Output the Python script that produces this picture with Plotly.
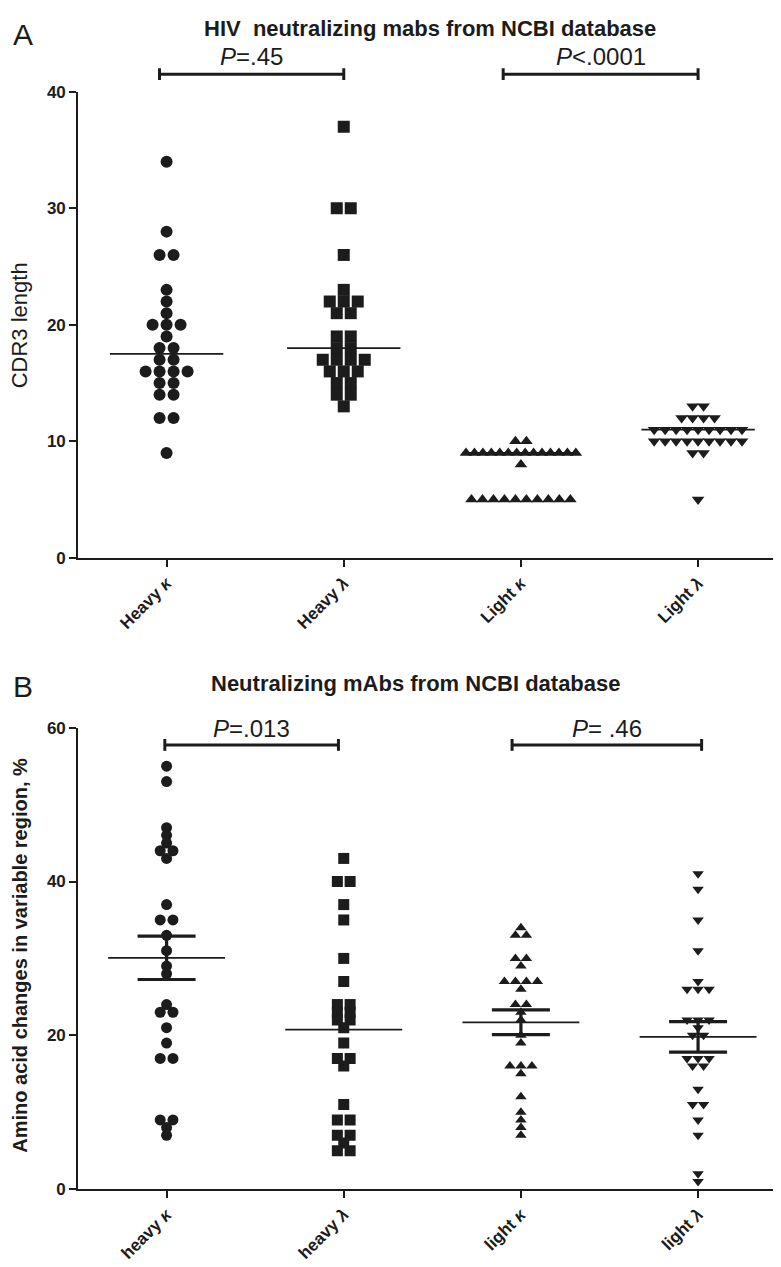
import numpy as np
import plotly.graph_objects as go
from plotly.subplots import make_subplots

# ---------------------------------------------------------------
# Data
# ---------------------------------------------------------------
labels_a = ["Heavy <i>κ</i>", "Heavy <i>λ</i>", "Light <i>κ</i>", "Light <i>λ</i>"]
labels_b = ["heavy <i>κ</i>", "heavy <i>λ</i>", "light <i>κ</i>", "light <i>λ</i>"]

# Panel A - CDR3 length (median shown)
cdr3_heavy_kappa = [34, 28, 26, 26, 23, 22, 21, 20, 20, 20, 19, 18, 18, 17, 17,
                    16, 16, 16, 16, 15, 15, 14, 14, 12, 12, 9]
cdr3_heavy_lambda = [37, 30, 30, 26, 23, 22, 22, 22, 21, 21, 19, 19, 18, 18, 17,
                     17, 17, 17, 16, 16, 16, 15, 15, 14, 14, 13]
cdr3_light_kappa = [10, 10, 9, 9, 9, 9, 9, 9, 9, 9, 9, 9, 9, 9, 9, 9, 8,
                    5, 5, 5, 5, 5, 5, 5, 5, 5, 5]
cdr3_light_lambda = [13, 13, 12, 12, 12, 12, 11, 11, 11, 11, 11, 11, 11, 11, 11,
                     10, 10, 10, 10, 10, 10, 10, 10, 10, 9, 9, 5]

# Panel B - amino acid changes in variable region, % (mean +/- SEM shown)
aa_heavy_kappa = [55, 53, 47, 46, 45, 44, 44, 43, 37, 35, 35, 33, 31, 29, 28,
                  24, 23, 23, 21, 19, 17, 17, 9, 9, 8, 7]
aa_heavy_lambda = [43, 40, 40, 37, 35, 30, 27, 24, 24, 23, 23, 22, 22, 21, 19,
                   17, 17, 16, 11, 9, 9, 7, 7, 6, 5, 5]
aa_light_kappa = [34, 33, 33, 30, 30, 29, 27, 27, 27, 27, 26, 24, 24, 23, 22,
                  20, 19, 16, 16, 16, 15, 12, 10, 9, 8, 7]
aa_light_lambda = [41, 39, 35, 31, 27, 26, 26, 26, 22, 22, 22, 21, 20, 20, 17,
                   17, 17, 16, 16, 13, 11, 11, 9, 7, 2, 1]

p_text_a = ["<i>P</i>=.45", "<i>P</i>&lt;.0001"]
p_text_b = ["<i>P</i>=.013", "<i>P</i>= .46"]

W, H = 781, 1267
INK = "#1c1c1c"
FONT = "Liberation Sans, Arial, sans-serif"


def swarm(values, step, max_half):
    # spread equal values sideways, centred on the category
    vals = np.asarray(values, dtype=float)
    off = np.zeros(len(vals))
    for v in np.unique(vals):
        idx = np.where(vals == v)[0]
        n = len(idx)
        s = step if n < 2 else min(step, 2 * max_half / (n - 1))
        off[idx] = (np.arange(n) - (n - 1) / 2) * s
    return off


def py(pix):
    # pixel row -> paper fraction
    return 1 - pix / H


fig = make_subplots(rows=2, cols=1)

symbols = ["circle", "square", "triangle-up", "triangle-down"]

# ---------------------------------------------------------------
# Panel A
# ---------------------------------------------------------------
groups_a = [cdr3_heavy_kappa, cdr3_heavy_lambda, cdr3_light_kappa, cdr3_light_lambda]
for i, vals in enumerate(groups_a):
    tri = i >= 2
    off = swarm(vals, 0.062 if tri else 0.079, 0.31)
    fig.add_trace(go.Scatter(
        x=i + off, y=vals, mode="markers",
        marker=dict(symbol=symbols[i], size=11 if tri else 12, color=INK, line=dict(width=0)),
        showlegend=False, hoverinfo="y"), row=1, col=1)
    med = float(np.median(vals))
    fig.add_trace(go.Scatter(
        x=[i - 0.32, i + 0.32], y=[med, med], mode="lines",
        line=dict(color=INK, width=1.8), showlegend=False, hoverinfo="skip"), row=1, col=1)

# ---------------------------------------------------------------
# Panel B
# ---------------------------------------------------------------
groups_b = [aa_heavy_kappa, aa_heavy_lambda, aa_light_kappa, aa_light_lambda]
for i, vals in enumerate(groups_b):
    tri = i >= 2
    off = swarm(vals, 0.062 if tri else 0.072, 0.31)
    fig.add_trace(go.Scatter(
        x=i + off, y=vals, mode="markers",
        marker=dict(symbol=symbols[i], size=10 if tri else 11, color=INK, line=dict(width=0)),
        showlegend=False, hoverinfo="y"), row=2, col=1)
    arr = np.asarray(vals, dtype=float)
    mean = arr.mean()
    sem = arr.std(ddof=1) / np.sqrt(len(arr))
    if i != 1:
        fig.add_trace(go.Scatter(
            x=[i], y=[mean], mode="markers", marker=dict(size=0.1, color=INK),
            error_y=dict(type="data", array=[sem], color=INK, thickness=3.2, width=29),
            showlegend=False, hoverinfo="skip"), row=2, col=1)
    fig.add_trace(go.Scatter(
        x=[i - 0.33, i + 0.33], y=[mean, mean], mode="lines",
        line=dict(color=INK, width=1.8), showlegend=False, hoverinfo="skip"), row=2, col=1)

# ---------------------------------------------------------------
# Axes
# ---------------------------------------------------------------
ytick_font = dict(family=FONT, size=17, color=INK, weight="bold")
xtick_font = dict(family=FONT, size=17, color=INK, weight="bold")
xcommon = dict(range=[-0.5, 3.5], tickvals=[0, 1, 2, 3], tickangle=-45,
               showline=True, linecolor=INK, linewidth=1.6, ticks="outside",
               ticklen=7, tickwidth=1.6, tickcolor=INK, showgrid=False,
               zeroline=False, tickfont=xtick_font, domain=[70 / W, 0.997])
ycommon = dict(showline=True, linecolor=INK, linewidth=1.6, ticks="outside",
               ticklen=7, tickwidth=1.6, tickcolor=INK, showgrid=False,
               zeroline=False, tickfont=ytick_font)

fig.update_xaxes(ticktext=labels_a, **xcommon, row=1, col=1)
fig.update_xaxes(ticktext=labels_b, **xcommon, row=2, col=1)
fig.update_yaxes(range=[0, 40], tickvals=[0, 10, 20, 30, 40],
                 domain=[py(549), py(76)], **ycommon, row=1, col=1)
fig.update_yaxes(range=[0, 60], tickvals=[0, 20, 40, 60],
                 domain=[py(1190), py(721.5)], **ycommon, row=2, col=1)

# ---------------------------------------------------------------
# Titles, panel letters, axis titles
# ---------------------------------------------------------------
ann = []
ann.append(dict(text="A", x=15 / W, y=py(18), font=dict(family=FONT, size=30, color=INK)))
ann.append(dict(text="B", x=15 / W, y=py(680), font=dict(family=FONT, size=30, color=INK)))
ann.append(dict(text="HIV  neutralizing mabs from NCBI database", x=422 / W, y=py(12),
                font=dict(family="Liberation Sans Narrow, Arial Narrow, " + FONT, size=22,
                          color=INK, weight="bold")))
ann.append(dict(text="Neutralizing mAbs from NCBI database", x=408 / W, y=py(677),
                font=dict(family=FONT, size=22, color=INK, weight="bold")))
ann.append(dict(text="CDR3 length", x=11 / W, y=py(313), textangle=-90,
                font=dict(family=FONT, size=22, color=INK)))
ann.append(dict(text="Amino acid changes in variable region, %", x=12 / W, y=py(953),
                textangle=-90, font=dict(family=FONT, size=20, color=INK, weight="bold")))
for a in ann:
    a.update(xref="paper", yref="paper", showarrow=False, xanchor="center", yanchor="middle")

# significance brackets
brackets = [(1, -0.04, 1.0, 40, 58, p_text_a[0]), (1, 1.9, 3.0, 40, 58, p_text_a[1]),
            (2, -0.01, 0.97, 722, 739, p_text_b[0]), (2, 1.95, 3.02, 722, 739, p_text_b[1])]
shapes = []
for row, x0, x1, ty, by, txt in brackets:
    xr = "x" if row == 1 else "x2"
    line = dict(color=INK, width=3)
    shapes.append(dict(type="line", xref=xr, yref="paper", x0=x0, x1=x1,
                       y0=py(by), y1=py(by), line=line))
    for xe in (x0, x1):
        shapes.append(dict(type="line", xref=xr, yref="paper", x0=xe, x1=xe,
                           y0=py(by - 6), y1=py(by + 6), line=line))
    ann.append(dict(text=txt, xref=xr, yref="paper", x=(x0 + x1) / 2, y=py(ty),
                    showarrow=False, xanchor="center", yanchor="middle",
                    font=dict(family=FONT, size=24, color=INK)))

fig.update_layout(
    width=W, height=H,
    margin=dict(l=0, r=0, t=0, b=0),
    paper_bgcolor="white", plot_bgcolor="white",
    annotations=ann, shapes=shapes,
    showlegend=False,
)

fig.write_html("out.html")
